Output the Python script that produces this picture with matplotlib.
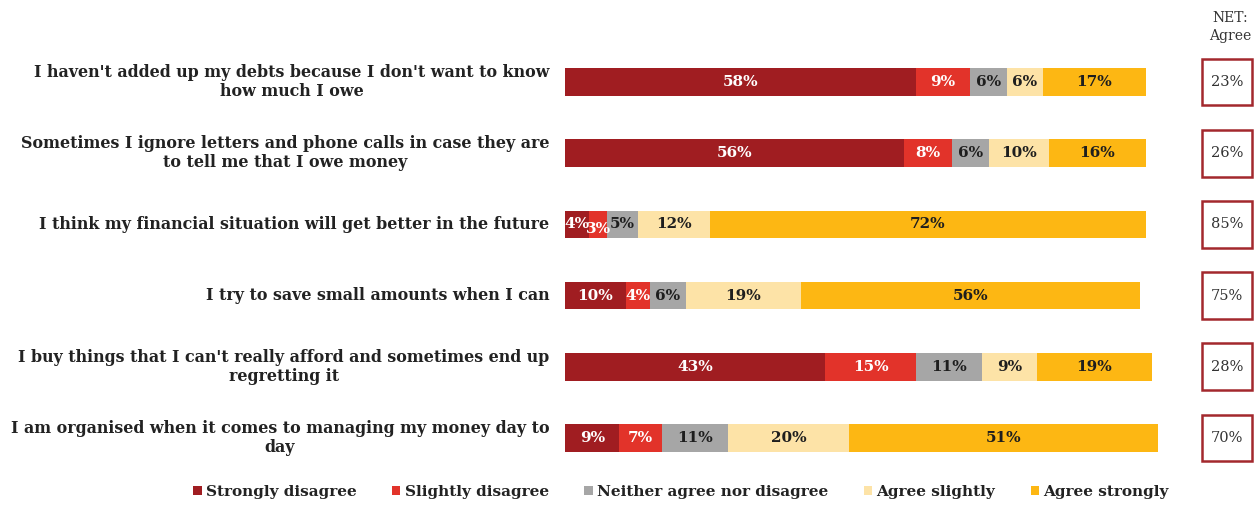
import numpy as np
import matplotlib.pyplot as plt
from matplotlib.patches import Rectangle, Patch

# Survey statements and responses (% of respondents)
statements = [
    "I haven't added up my debts because I don't want to know\nhow much I owe",
    "Sometimes I ignore letters and phone calls in case they are\nto tell me that I owe money",
    "I think my financial situation will get better in the future",
    "I try to save small amounts when I can",
    "I buy things that I can't really afford and sometimes end up\nregretting it",
    "I am organised when it comes to managing my money day to\nday",
]
strongly_disagree = [58, 56, 4, 10, 43, 9]
slightly_disagree = [9, 8, 3, 4, 15, 7]
neither = [6, 6, 5, 6, 11, 11]
agree_slightly = [6, 10, 12, 19, 9, 20]
agree_strongly = [17, 16, 72, 56, 19, 51]
net_agree = [23, 26, 85, 75, 28, 70]

categories = ["Strongly disagree", "Slightly disagree", "Neither agree nor disagree",
              "Agree slightly", "Agree strongly"]
colors = ["#a01d21", "#e2332a", "#a6a6a6", "#fde3a7", "#fdb713"]
text_colors = ["white", "white", "#1e1e1e", "#1e1e1e", "#1e1e1e"]

plt.rcParams['font.family'] = ['DejaVu Serif']

W, H = 1258, 505
fig = plt.figure(figsize=(W / 100, H / 100), dpi=100)

# main bar area
ax = fig.add_axes([565 / W, 1 - 473.6 / H, 605 / W, 427.2 / H])
y = np.arange(len(statements))
series = [strongly_disagree, slightly_disagree, neither, agree_slightly, agree_strongly]
left = np.zeros(len(statements))
for vals, col, tcol in zip(series, colors, text_colors):
    vals = np.array(vals, dtype=float)
    ax.barh(y, vals, left=left, height=0.39, color=col, edgecolor='none')
    for yi, (l, v) in enumerate(zip(left, vals)):
        # tiny segments: nudge the label down a touch so neighbours don't sit on top of each other
        dy = 0.06 if (v < 4 and col == colors[1]) else 0
        ax.text(l + v / 2, yi + dy, f"{int(v)}%", ha='center', va='center',
                color=tcol, fontsize=11, fontweight='bold')
    left += vals

ax.set_xlim(0, 100)
ax.set_ylim(len(statements) - 0.5, -0.5)
ax.axis('off')

for yi, s in enumerate(statements):
    ax.text(-2.6, yi, s, ha='right', va='center', multialignment='center',
            fontsize=11.4, fontweight='bold', color='#222222', linespacing=1.12)

# NET: Agree column
ax2 = fig.add_axes([1200 / W, 1 - 473.6 / H, 54 / W, 427.2 / H])
ax2.set_xlim(0, 1)
ax2.set_ylim(len(statements) - 0.5, -0.5)
ax2.axis('off')
for yi, v in enumerate(net_agree):
    ax2.add_patch(Rectangle((0.04, yi - 0.33), 0.92, 0.66, fill=False,
                            edgecolor='#a3282d', linewidth=1.8))
    ax2.text(0.5, yi, f"{v}%", ha='center', va='center', fontsize=10.5,
             color='#333333')
fig.text(1230 / W, 1 - 27 / H, "NET:\nAgree", ha='center', va='center',
         fontsize=10, color='#333333', linespacing=1.35)

handles = [Patch(facecolor=c, edgecolor='none') for c in colors]
fig.legend(handles, categories, loc='center', bbox_to_anchor=(681 / W, 1 - 492 / H),
           ncol=5, frameon=False, handlelength=0.55, handleheight=0.55,
           handletextpad=0.3, columnspacing=2.3, labelcolor='#222222',
           prop={'weight': 'bold', 'size': 11})

fig.savefig("out.png", dpi=100)
